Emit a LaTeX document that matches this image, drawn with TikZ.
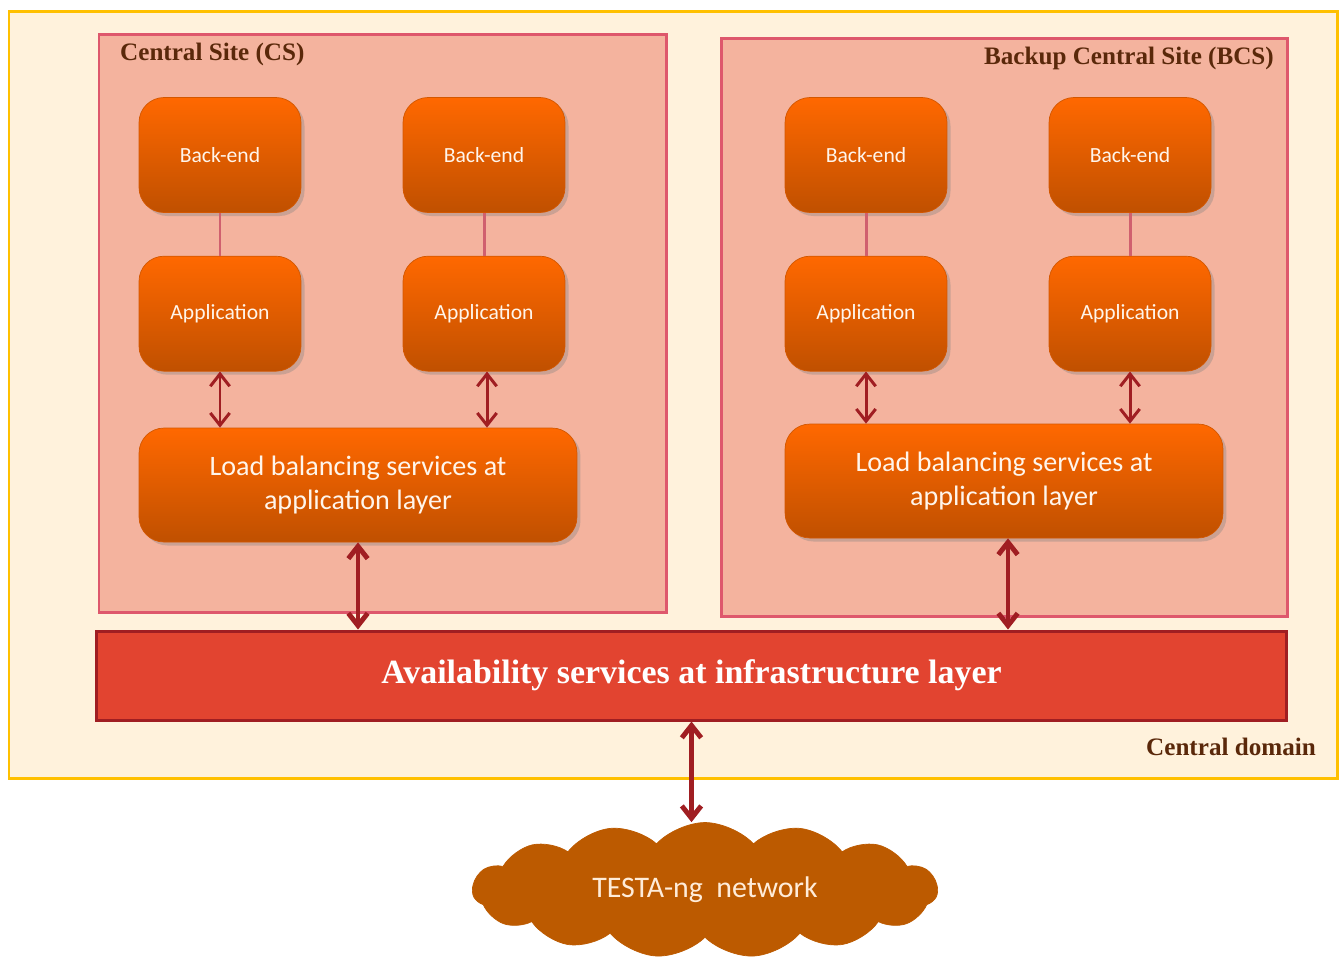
\documentclass[tikz,border=0pt]{standalone}
\usepackage{fontspec}
\setmainfont{Carlito}
\newfontfamily\headfont{Liberation Serif}
\usepackage{xcolor}
\usepackage{tikz}
\usetikzlibrary{arrows.meta,calc,positioning,shapes.symbols,shadows}
\definecolor{domfill}{RGB}{255,242,220}
\definecolor{domline}{RGB}{255,192,0}
\definecolor{sitefill}{RGB}{244,179,158}
\definecolor{siteline}{RGB}{222,88,108}
\definecolor{boxtop}{RGB}{255,104,0}
\definecolor{boxbot}{RGB}{192,80,0}
\definecolor{barfill}{RGB}{226,68,48}
\definecolor{barline}{RGB}{160,30,34}
\definecolor{arr}{RGB}{160,30,34}
\definecolor{headc}{RGB}{90,40,10}
\definecolor{cloudc}{RGB}{188,90,0}
\definecolor{linkc}{RGB}{208,96,110}

\tikzset{
  unit/.style={draw=boxbot!70!boxtop,rounded corners=0.5cm,top color=boxtop,bottom color=boxbot,
    drop shadow={opacity=0.35,shadow xshift=2pt,shadow yshift=-2pt},
    text=white!92!orange,minimum width=3.24cm,minimum height=2.3cm,font=\fontsize{12.3}{14}\selectfont},
  lbunit/.style={unit,minimum width=8.76cm,minimum height=2.28cm,align=center,font=\fontsize{16}{19}\selectfont},
  site/.style={draw=siteline,fill=sitefill,line width=1.7pt},
  sitelabel/.style={text=headc,font=\headfont\bfseries\fontsize{14.3}{16}\selectfont},
  link/.style={draw=linkc,line width=1.7pt},
  duo/.style={<->,draw=arr,line width=1.7pt},
  bigduo/.style={<->,draw=arr,line width=2.8pt}
}

\begin{document}
\begin{tikzpicture}[x=0.02cm,y=-0.02cm,node distance=0.86cm,>={Straight Barb[length=7pt,width=11pt]}]
  \useasboundingbox (0,0) rectangle (1341,958);
  % central domain
  \draw[domline,fill=domfill,line width=1.7pt] (9,11) rectangle (1337,778);
  \node[sitelabel,anchor=east] (dom) at (1322,747) {Central domain};

  % central site
  \draw[site] (99,34) rectangle (666,612);
  \node[sitelabel,anchor=west] (cs) at (114,54) {Central Site (CS)};
  \node[unit] (cbe1) at (220,155) {Back-end};
  \node[unit] (cbe2) at (484,155) {Back-end};
  \node[unit,below=of cbe1] (capp1) {Application};
  \node[unit,below=of cbe2] (capp2) {Application};
  \node[lbunit] (clb) at (358,485) {Load balancing services at\\application layer};

  % backup central site
  \draw[site] (721,38) rectangle (1287,616);
  \node[sitelabel,anchor=east] (bcs) at (1280,58) {Backup Central Site (BCS)};
  \node[unit] (bbe1) at (866,155) {Back-end};
  \node[unit] (bbe2) at (1130,155) {Back-end};
  \node[unit,below=of bbe1] (bapp1) {Application};
  \node[unit,below=of bbe2] (bapp2) {Application};
  \node[lbunit] (blb) at (1004,481) {Load balancing services at\\application layer};

  % infrastructure layer
  \node[draw=barline,fill=barfill,line width=1.7pt,minimum width=23.82cm,minimum height=1.78cm,
    text=white,font=\headfont\bfseries\fontsize{19.3}{22}\selectfont] (avail) at (691.5,675.5)
    {Availability services at infrastructure layer};

  % network
  \node[cloud,cloud puffs=15,cloud puff arc=95,aspect=3.6,fill=cloudc,draw=cloudc,
    minimum width=9.3cm,minimum height=2.7cm,text=white!85!orange,
    font=\fontsize{17}{20}\selectfont] (testa) at (705,890) {TESTA-ng\ \ network};

  % links
  \draw[link] (cbe1) -- (capp1);
  \draw[link] (cbe2) -- (capp2);
  \draw[link] (bbe1) -- (bapp1);
  \draw[link] (bbe2) -- (bapp2);
  \draw[duo] (capp1.south) -- (capp1.south |- clb.north);
  \draw[duo] ([xshift=0.06cm]capp2.south) -- ([xshift=0.06cm]capp2.south |- clb.north);
  \draw[duo] (bapp1.south) -- (bapp1.south |- blb.north);
  \draw[duo] (bapp2.south) -- (bapp2.south |- blb.north);
  \draw[bigduo] (clb.south) -- (clb.south |- avail.north);
  \draw[bigduo] ([xshift=0.08cm]blb.south) -- ([xshift=0.08cm]blb.south |- avail.north);
  \draw[bigduo] (avail.south) -- (avail.south |- testa.north);
\end{tikzpicture}
\end{document}
